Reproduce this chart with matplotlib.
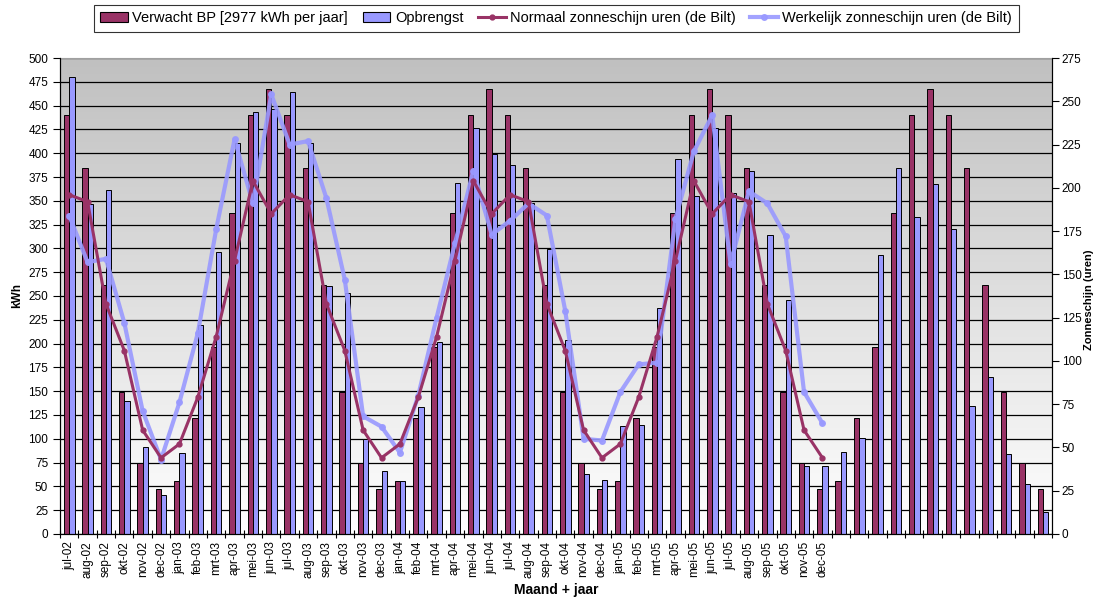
import numpy as np
import matplotlib
matplotlib.use("Agg")
import matplotlib.pyplot as plt
from matplotlib.colors import LinearSegmentedColormap
from matplotlib.lines import Line2D
from matplotlib.patches import Patch

plt.rcParams['font.family'] = ['Liberation Sans', 'DejaVu Sans']

# maanden jul-02 t/m dec-06, alleen t/m dec-05 met label
maanden = ["jul-02", "aug-02", "sep-02", "okt-02", "nov-02", "dec-02",
           "jan-03", "feb-03", "mrt-03", "apr-03", "mei-03", "jun-03",
           "jul-03", "aug-03", "sep-03", "okt-03", "nov-03", "dec-03",
           "jan-04", "feb-04", "mrt-04", "apr-04", "mei-04", "jun-04",
           "jul-04", "aug-04", "sep-04", "okt-04", "nov-04", "dec-04",
           "jan-05", "feb-05", "mrt-05", "apr-05", "mei-05", "jun-05",
           "jul-05", "aug-05", "sep-05", "okt-05", "nov-05", "dec-05",
           "", "", "", "", "", "", "", "", "", "", "", ""]

# verwachte opbrengst (kWh)
verwacht = [440, 384, 262, 149, 75, 47,
            56, 122, 196, 337, 440, 467, 440, 384, 262, 149, 75, 47,
            56, 122, 196, 337, 440, 467, 440, 384, 262, 149, 75, 47,
            56, 122, 196, 337, 440, 467, 440, 384, 262, 149, 75, 47,
            56, 122, 196, 337, 440, 467, 440, 384, 262, 149, 75, 47]

# gemeten opbrengst (kWh)
opbrengst = [480, 347, 361, 140, 91, 41,
             85, 220, 296, 411, 443, 446, 464, 411, 260, 253, 100, 66,
             56, 133, 202, 369, 426, 399, 388, 348, 299, 204, 63, 57,
             113, 115, 237, 394, 355, 427, 358, 381, 314, 246, 71, 71,
             86, 101, 293, 384, 333, 368, 320, 134, 165, 84, 52, 23]

# zonneschijn uren De Bilt, normaal en werkelijk (t/m dec-05)
zon_normaal = [196, 192, 133, 106, 60, 44,
               52, 79, 114, 158, 204, 185, 196, 192, 133, 106, 60, 44,
               52, 79, 114, 158, 204, 185, 196, 192, 133, 106, 60, 44,
               52, 79, 114, 158, 204, 185, 196, 192, 133, 106, 60, 44]
zon_werkelijk = [184, 157, 159, 122, 71, 43,
                 76, 116, 176, 228, 191, 254, 225, 227, 194, 147, 68, 62,
                 47, 80, 125, 168, 210, 173, 181, 191, 184, 129, 55, 54,
                 82, 98, 99, 182, 221, 242, 156, 198, 191, 172, 82, 64]

rood = "#993366"
blauw = "#9999FF"

fig = plt.figure(figsize=(10.95, 6.05), dpi=100)
ax = fig.add_axes([0.0548, 0.1174, 0.906, 0.7867])

n = len(verwacht)
x = np.arange(n)
xmin, xmax = -0.5, n - 0.5

# grijs verloop als achtergrond van het plotvlak
cmap = LinearSegmentedColormap.from_list("bg", ["#FFFFFF", "#C0C0C0"])
ax.imshow(np.linspace(0, 1, 256).reshape(-1, 1), cmap=cmap, origin="lower",
          extent=(xmin, xmax, 0, 500), aspect="auto", zorder=0)

w = 0.29
ax.bar(x - w / 2, verwacht, w, color=rood, edgecolor="black", linewidth=0.7, zorder=2)
ax.bar(x + w / 2, opbrengst, w, color=blauw, edgecolor="black", linewidth=0.7, zorder=2)

ax.set_xlim(xmin, xmax)
ax.set_ylim(0, 500)
ax.set_yticks(np.arange(0, 501, 25))
ax.yaxis.grid(True, color="black", linewidth=0.9)
ax.set_axisbelow(True)

ax.set_xticks(x)
ax.set_xticklabels(maanden, rotation=90, fontsize=8.5)
ax.set_xticks(np.arange(xmin, xmax + 0.1, 1), minor=True)
ax.tick_params(axis="x", which="major", length=0, pad=5)
ax.tick_params(axis="x", which="minor", length=6, direction="inout", width=0.8)
ax.tick_params(axis="y", labelsize=8.5, length=5, width=0.8, direction="out")

for s in ["left", "bottom"]:
    ax.spines[s].set_color("black")
ax.spines["top"].set_color("#A0A0A0")
ax.spines["right"].set_color("black")

ax.set_ylabel("kWh", fontsize=8.5, fontweight="bold", labelpad=4)
ax.set_xlabel("Maand + jaar", fontsize=10, fontweight="bold", labelpad=4)

# tweede as voor de zonneschijn uren
ax2 = ax.twinx()
ax2.set_ylim(0, 275)
ax2.set_yticks(np.arange(0, 276, 25))
ax2.tick_params(axis="y", labelsize=8.5, length=5, width=0.8, direction="out", pad=2)
ax2.spines["right"].set_color("black")
ax2.spines["top"].set_visible(False)
fig.text(1089 / 1095, 0.505, "Zonneschijn (uren)", rotation=90, ha="center", va="center",
         fontsize=8, fontweight="bold")

xl = x[:len(zon_normaal)]
ax2.plot(xl, zon_werkelijk, color=blauw, linewidth=3, marker="o", markersize=4,
         alpha=0.9, zorder=3)
ax2.plot(xl, zon_normaal, color=rood, linewidth=2.2, marker="o", markersize=3.5,
         zorder=4)

handles = [
    Patch(facecolor=rood, edgecolor="black", linewidth=0.8),
    Patch(facecolor=blauw, edgecolor="black", linewidth=0.8),
    Line2D([], [], color=rood, linewidth=2.2, marker="o", markersize=3.5),
    Line2D([], [], color=blauw, linewidth=3, marker="o", markersize=4, alpha=0.9),
]
labels = ["Verwacht BP [2977 kWh per jaar]", "Opbrengst",
          "Normaal zonneschijn uren (de Bilt)", "Werkelijk zonneschijn uren (de Bilt)"]
leg = fig.legend(handles, labels, loc="upper center", bbox_to_anchor=(0.508, 0.992),
                 ncol=4, fontsize=10.5, frameon=True, fancybox=False, edgecolor="black",
                 handlelength=1.9, handletextpad=0.3, columnspacing=1.0, borderpad=0.45,
                 borderaxespad=0)
leg.get_frame().set_linewidth(0.8)

fig.savefig("out.png", dpi=100)
